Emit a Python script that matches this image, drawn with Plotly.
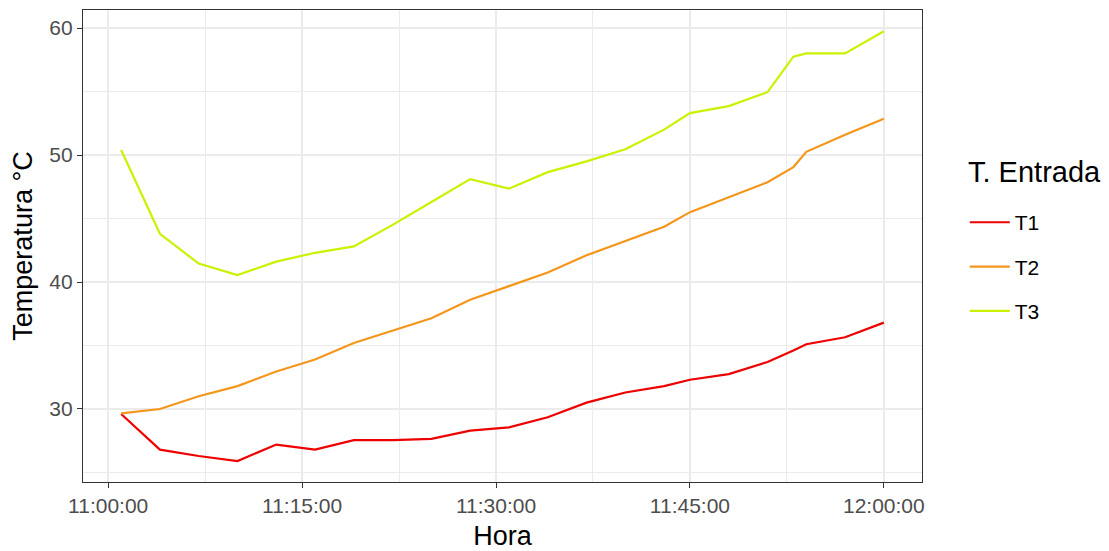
import plotly.graph_objects as go

# Data
minutes = [1, 4, 7, 10, 13, 16, 19, 22, 25, 28, 31, 34, 37, 40, 43, 45, 48, 51, 53, 54, 57, 60]
t1 = [29.6, 26.8, 26.3, 25.9, 27.2, 26.8, 27.55, 27.55, 27.65, 28.3, 28.55, 29.35, 30.5, 31.3, 31.8, 32.3, 32.75, 33.7, 34.6, 35.1, 35.65, 36.8]
t2 = [29.65, 30.0, 31.0, 31.8, 32.95, 33.9, 35.2, 36.2, 37.15, 38.6, 39.65, 40.75, 42.1, 43.25, 44.35, 45.5, 46.7, 47.85, 49.05, 50.25, 51.6, 52.85]
t3 = [50.4, 43.8, 41.45, 40.55, 41.6, 42.3, 42.8, 44.5, 46.3, 48.1, 47.35, 48.65, 49.5, 50.45, 52.0, 53.3, 53.85, 54.95, 57.75, 58.0, 58.0, 59.75]

series_names = ["T1", "T2", "T3"]
series_colors = ["#EE0000", "#F5961C", "#CAF200"]
legend_title = "T. Entrada"

def to_time(m):
    h = 11 + m // 60
    mm = m % 60
    return f"2023-01-01 {h:02d}:{mm:02d}:00"

times = [to_time(m) for m in minutes]

fig = go.Figure()
for name, vals, col in zip(series_names, [t1, t2, t3], series_colors):
    fig.add_trace(go.Scatter(
        x=times, y=vals, mode="lines", name=name,
        line=dict(color=col, width=2.2),
        legendgroup=name,
    ))

FONT = "Liberation Sans, Arial, sans-serif"

fig.update_layout(
    width=1101, height=543,
    margin=dict(l=75, r=187, t=2, b=69),
    paper_bgcolor="white", plot_bgcolor="white",
    font=dict(family=FONT, color="black"),
    legend=dict(
        font=dict(size=21, color="black"),
        x=1.051, xanchor="left", y=0.593, yanchor="top",
        tracegroupgap=14, itemwidth=40,
        bgcolor="rgba(0,0,0,0)",
    ),
    showlegend=True,
    annotations=[dict(
        text=legend_title, xref="paper", yref="paper",
        x=(967 - 83) / 839.6, y=(482 - 172) / 472,
        xanchor="left", yanchor="middle", showarrow=False,
        font=dict(size=29, color="black", family=FONT),
    )],
)

fig.update_xaxes(
    type="date", automargin=False,
    range=["2023-01-01 10:58:03", "2023-01-01 12:02:57"],
    tick0="2023-01-01 11:00:00", dtick=15 * 60 * 1000,
    tickformat="%H:%M:%S",
    showgrid=True, gridcolor="#EBEBEB", gridwidth=2,
    minor=dict(dtick=7.5 * 60 * 1000, tick0="2023-01-01 11:00:00", showgrid=True,
               gridcolor="#EBEBEB", gridwidth=1),
    showline=True, linecolor="#333333", linewidth=1.2, mirror=True,
    ticks="outside", ticklen=5, tickcolor="#333333", tickwidth=1.2,
    tickfont=dict(size=21, color="#4D4D4D"),
    title=dict(text="Hora", font=dict(size=27, color="black"), standoff=11),
    zeroline=False,
)
fig.update_yaxes(
    automargin=False,
    range=[24.25, 61.42],
    tick0=0, dtick=10,
    showgrid=True, gridcolor="#EBEBEB", gridwidth=2,
    minor=dict(dtick=5, tick0=0, showgrid=True, gridcolor="#EBEBEB", gridwidth=1),
    showline=True, linecolor="#333333", linewidth=1.2, mirror=True,
    ticks="outside", ticklen=5, tickcolor="#333333", tickwidth=1.2,
    tickfont=dict(size=21, color="#4D4D4D"),
    title=dict(text="Temperatura °C", font=dict(size=27, color="black"), standoff=9),
    zeroline=False,
)

fig.write_html("out.html")
